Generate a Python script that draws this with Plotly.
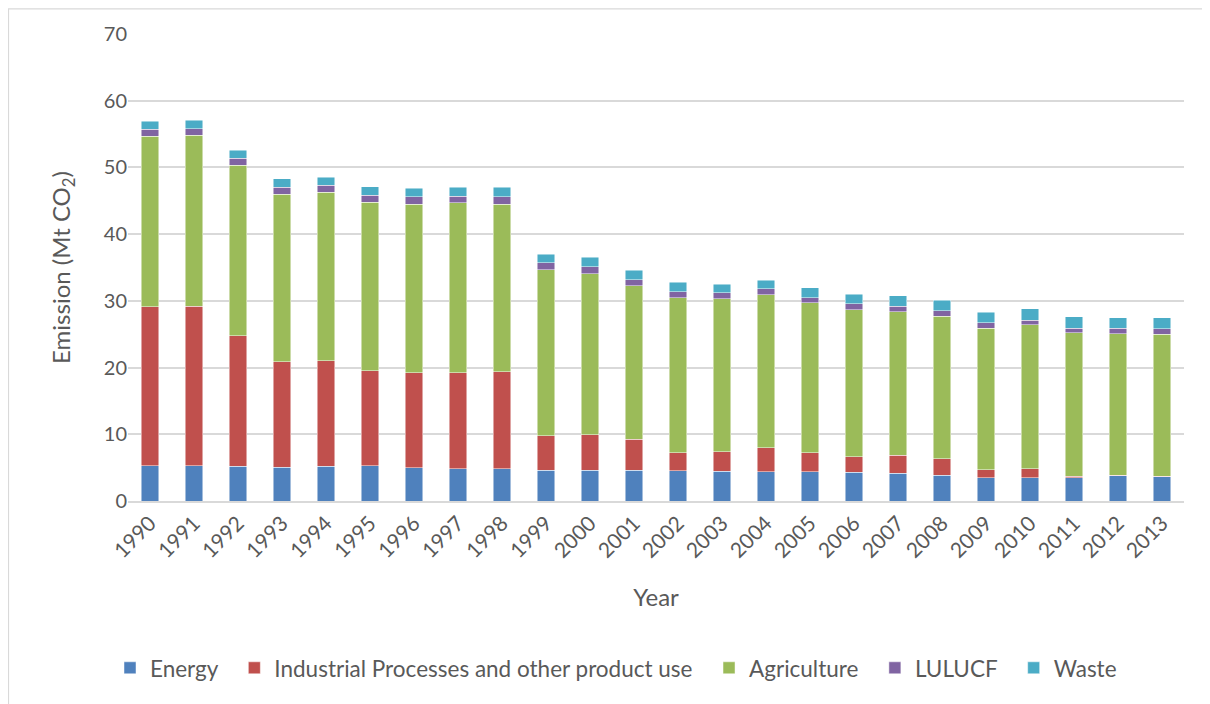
import plotly.graph_objects as go

years = [str(y) for y in range(1990, 2014)]
energy = [5.3, 5.3, 5.2, 5.05, 5.2, 5.25, 5.0, 4.85, 4.8, 4.6, 4.6, 4.6,
          4.55, 4.45, 4.4, 4.4, 4.3, 4.15, 3.85, 3.5, 3.5, 3.5, 3.8, 3.65]
industrial = [23.8, 23.9, 19.6, 15.85, 15.8, 14.25, 14.2, 14.35, 14.6, 5.2, 5.35, 4.65,
              2.7, 2.9, 3.6, 2.85, 2.35, 2.7, 2.5, 1.2, 1.35, 0.2, 0.05, 0.05]
agriculture = [25.6, 25.6, 25.5, 25.1, 25.3, 25.3, 25.3, 25.5, 25.1, 24.9, 24.15, 23.05,
               23.25, 22.95, 22.9, 22.45, 22.05, 21.55, 21.35, 21.2, 21.55, 21.5, 21.25, 21.3]
lulucf = [1.0, 1.0, 1.1, 1.0, 1.0, 1.0, 1.1, 1.0, 1.1, 1.0, 1.0, 0.9,
          0.9, 0.9, 0.9, 0.8, 0.9, 0.8, 0.8, 0.8, 0.7, 0.7, 0.8, 0.8]
waste = [1.2, 1.3, 1.2, 1.3, 1.2, 1.3, 1.3, 1.3, 1.4, 1.3, 1.4, 1.4,
         1.4, 1.3, 1.3, 1.5, 1.4, 1.6, 1.6, 1.6, 1.7, 1.7, 1.6, 1.7]

series = [
    ("Energy", energy, "#4F81BD"),
    ("Industrial Processes and other product use", industrial, "#C0504D"),
    ("Agriculture", agriculture, "#9BBB59"),
    ("LULUCF", lulucf, "#8064A2"),
    ("Waste", waste, "#4BACC6"),
]

FONT = "Lato"
GREY = "#595959"
PAD = "\u00a0" * 2
fig = go.Figure()
for i, (name, vals, col) in enumerate(series):
    fig.add_trace(go.Bar(
        x=years, y=vals, name=name + (PAD if i < len(series) - 1 else ""),
        marker=dict(color=col, line=dict(color="rgba(255,255,255,0.6)", width=0.8)),
    ))

# page body has an 8px margin: plot area on screen spans x 128..1184, y 34..501
fig.update_layout(
    barmode="stack",
    bargap=0.6,
    width=1210, height=704,
    margin=dict(l=120, r=34, t=26, b=211),
    paper_bgcolor="white",
    plot_bgcolor="white",
    font=dict(family=FONT, color=GREY, size=20),
    xaxis=dict(
        tickangle=-45,
        tickfont=dict(size=21, color=GREY),
        title=dict(text="Year", font=dict(size=24, color=GREY), standoff=28),
        showgrid=False,
        showline=True, linecolor="#d9d9d9", linewidth=1.5,
        ticks="",
    ),
    yaxis=dict(
        range=[0, 70],
        dtick=10,
        tickfont=dict(size=20, color=GREY),
        title=dict(text="Emission (Mt CO<sub>2</sub>)", font=dict(size=24, color=GREY), standoff=26),
        showgrid=True, gridcolor="#d9d9d9", gridwidth=1.5,
        zeroline=False,
        ticks="", ticklen=0,
    ),
    legend=dict(
        orientation="h",
        x=(616 - 128) / 1056, xanchor="center",
        y=-0.358, yanchor="middle",
        font=dict(size=22.5, color=GREY),
        itemwidth=30,
        traceorder="normal",
    ),
    shapes=[dict(
        type="rect", xref="paper", yref="paper",
        x0=(8.5 - 128) / 1056, x1=1.2,
        y0=-0.6, y1=1 + (34 - 8.8) / 467,
        line=dict(color="#d9d9d9", width=1.2),
        fillcolor="rgba(0,0,0,0)", layer="below",
    )],
)

fig.write_html("out.html")
